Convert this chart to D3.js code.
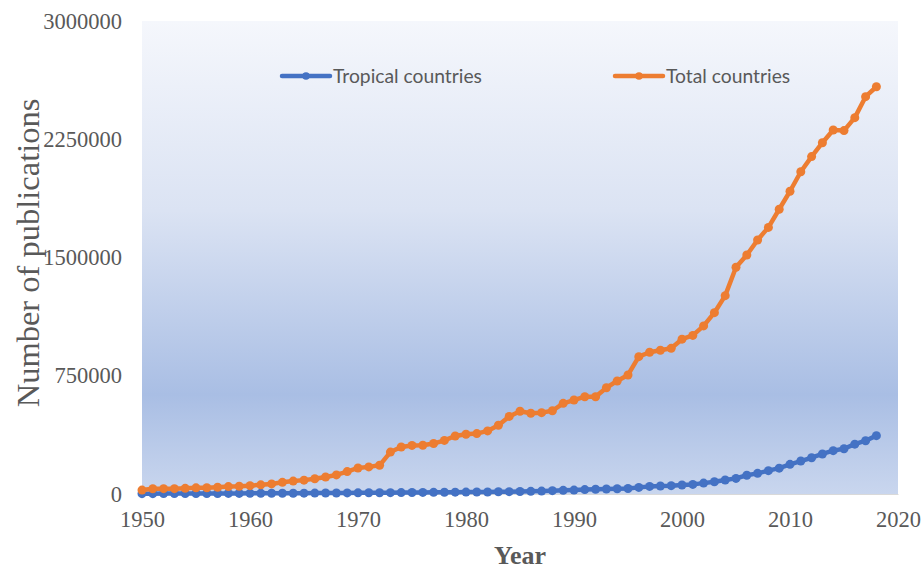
<!DOCTYPE html>
<html>
<head>
<meta charset="utf-8">
<script src="https://cdn.jsdelivr.net/npm/d3@7"></script>
<style>
  html, body { margin: 0; padding: 0; background: #ffffff; }
  svg { display: block; }
</style>
</head>
<body>
<svg id="chart" width="922" height="570"></svg>
<script>
// ---- Data ----
const years = d3.range(1950, 2019);
const tropical = [
  2000, 2200, 2400, 2600, 2800, 3000, 3200, 3400, 3600, 3800,
  4000, 4200, 4400, 4700, 5000, 5300, 5600, 6000, 6400, 6800,
  7200, 7600, 8000, 8500, 9000, 9500, 10000, 10500, 11000, 11500,
  12000, 12500, 13000, 14000, 15000, 16000, 17000, 18500, 21000, 23000,
  25000, 28000, 30000, 32000, 33000, 35000, 42000, 48000, 51000, 53000,
  57000, 61000, 69000, 78000, 89000, 99000, 119000, 131000, 148000, 164000,
  188000, 209000, 230000, 254000, 275000, 287000, 316000, 338000, 370000
];
const total = [
  25000, 33000, 34000, 34000, 36000, 39000, 40000, 43000, 47000, 49000,
  53000, 58000, 64000, 74000, 82000, 88000, 97000, 108000, 121000, 142000,
  165000, 172000, 182000, 266000, 298000, 308000, 309000, 320000, 340000, 368000,
  379000, 383000, 400000, 436000, 492000, 525000, 512000, 516000, 528000, 575000,
  596000, 617000, 617000, 674000, 717000, 755000, 871000, 899000, 912000, 924000,
  982000, 1006000, 1066000, 1150000, 1258000, 1438000, 1516000, 1611000, 1691000, 1806000,
  1920000, 2044000, 2140000, 2228000, 2309000, 2305000, 2387000, 2520000, 2583000
];
const seriesNames = ["Tropical countries", "Total countries"];
const seriesColors = ["#4472C4", "#ED7D31"];
const xTicks = [1950, 1960, 1970, 1980, 1990, 2000, 2010, 2020];
const yTicks = [0, 750000, 1500000, 2250000, 3000000];

// ---- Layout ----
const svg = d3.select("#chart");
const plot = { left: 142, right: 898, top: 21, bottom: 494 };
const x = d3.scaleLinear().domain([1950, 2020]).range([plot.left, plot.right]);
const y = d3.scaleLinear().domain([0, 3000000]).range([plot.bottom, plot.top]);

// background gradient
const defs = svg.append("defs");
const grad = defs.append("linearGradient").attr("id", "bg")
  .attr("x1", 0).attr("y1", 0).attr("x2", 0).attr("y2", 1);
grad.append("stop").attr("offset", "0%").attr("stop-color", "#f5f7fc");
grad.append("stop").attr("offset", "40%").attr("stop-color", "#dbe3f3");
grad.append("stop").attr("offset", "79%").attr("stop-color", "#a9bee4");
grad.append("stop").attr("offset", "100%").attr("stop-color", "#c9d6ee");

svg.append("rect")
  .attr("x", plot.left).attr("y", plot.top)
  .attr("width", plot.right - plot.left).attr("height", plot.bottom - plot.top)
  .attr("fill", "url(#bg)");

// axes
const serif = "'Liberation Serif', 'Times New Roman', serif";
const xAxis = d3.axisBottom(x).tickValues(xTicks).tickFormat(d3.format("d")).tickSize(0).tickPadding(17);
const gx = svg.append("g").attr("transform", `translate(0,${plot.bottom})`).call(xAxis);
gx.select(".domain").attr("stroke", "#d9d9d9").attr("stroke-width", 1);
gx.selectAll("text").attr("font-family", serif).attr("font-size", 22.5).attr("fill", "#595959");

const yAxis = d3.axisLeft(y).tickValues(yTicks).tickFormat(d3.format("d")).tickSize(0).tickPadding(20);
const gy = svg.append("g").attr("transform", `translate(${plot.left},0)`).call(yAxis);
gy.select(".domain").remove();
gy.selectAll("text").attr("font-family", serif).attr("font-size", 22.5).attr("fill", "#595959");

// axis titles
svg.append("text")
  .attr("x", (plot.left + plot.right) / 2).attr("y", 564)
  .attr("text-anchor", "middle")
  .attr("font-family", serif).attr("font-size", 26).attr("font-weight", "bold")
  .attr("fill", "#595959").text("Year");

svg.append("text")
  .attr("transform", `translate(39,253) rotate(-90)`)
  .attr("text-anchor", "middle")
  .attr("font-family", serif).attr("font-size", 32.5)
  .attr("fill", "#595959").text("Number of publications");

// series
const allSeries = [tropical, total];
const line = d3.line().x((d, i) => x(years[i])).y(d => y(d));
allSeries.forEach((vals, k) => {
  const g = svg.append("g");
  g.append("path").datum(vals)
    .attr("d", line)
    .attr("fill", "none")
    .attr("stroke", seriesColors[k])
    .attr("stroke-width", 4.5)
    .attr("stroke-linejoin", "round")
    .attr("stroke-linecap", "round");
  g.selectAll("circle").data(vals).enter().append("circle")
    .attr("cx", (d, i) => x(years[i]))
    .attr("cy", d => y(d))
    .attr("r", 4.5)
    .attr("fill", seriesColors[k]);
});

// legend
const legendX = [282, 615];
const legendY = 76;
seriesNames.forEach((name, k) => {
  const g = svg.append("g").attr("transform", `translate(${legendX[k]},${legendY})`);
  g.append("line").attr("x1", 0).attr("x2", 48).attr("y1", 0).attr("y2", 0)
    .attr("stroke", seriesColors[k]).attr("stroke-width", 4.5).attr("stroke-linecap", "round");
  g.append("circle").attr("cx", 24).attr("cy", 0).attr("r", 3.8).attr("fill", seriesColors[k]);
  g.append("text").attr("x", 51).attr("y", 6.8)
    .attr("font-family", "Lato, 'Noto Sans', sans-serif").attr("font-size", 19.3)
    .attr("fill", "#595959").text(name);
});
</script>
</body>
</html>
